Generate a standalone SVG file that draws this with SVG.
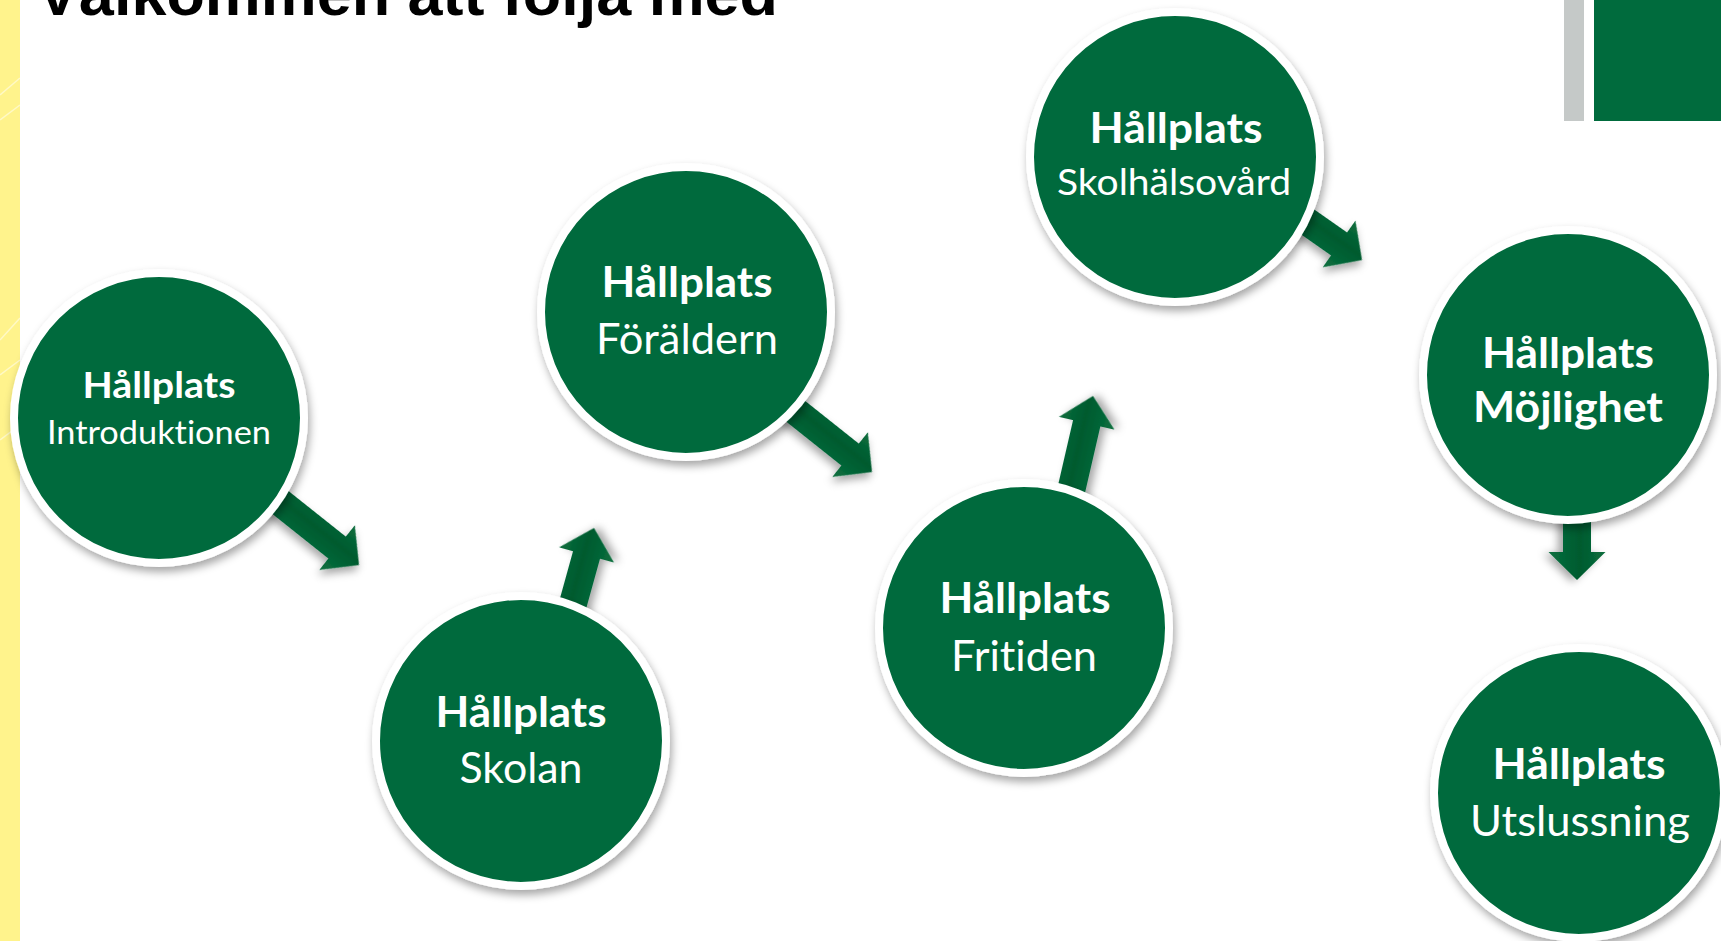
<svg xmlns="http://www.w3.org/2000/svg" xmlns:xlink="http://www.w3.org/1999/xlink" width="1721" height="941" viewBox="0 0 1721 941">
  <style>
    .node { fill: #006B3D; stroke: #FFFFFF; stroke-width: 8; filter: url(#shadow); }
    .t { fill: #FFFFFF; font-family: Lato, "Open Sans", "Noto Sans", sans-serif; text-anchor: middle; font-variant-ligatures: none; font-feature-settings: "liga" 0, "clig" 0; }
    .b { font-weight: 700; }
    .r { font-weight: 400; }
    .title { fill: #000000; font-family: "Liberation Sans", Arial, sans-serif; font-weight: 700; font-size: 62px; }
  </style>
  <defs>
    <filter id="shadow" x="-20%" y="-20%" width="140%" height="140%">
      <feDropShadow dx="2" dy="5" stdDeviation="4" flood-color="#000000" flood-opacity="0.35"/>
    </filter>
    <linearGradient id="arrowGrad" gradientUnits="userSpaceOnUse" x1="0" y1="-28" x2="0" y2="28">
      <stop offset="0" stop-color="#0B6E3E"/>
      <stop offset="0.45" stop-color="#005A2E"/>
      <stop offset="1" stop-color="#0A7040"/>
    </linearGradient>
    <path id="arrow" d="M0,0 L-28,-28.5 L-28,-14 L-140,-14 L-140,14 L-28,14 L-28,28.5 Z" fill="url(#arrowGrad)" filter="url(#shadow)"/>
  </defs>

  <rect x="0" y="0" width="1721" height="941" fill="#FFFFFF"/>

  <g id="background">
    <rect x="0" y="0" width="20" height="941" fill="#FFF38C"/>
    <g stroke="#FFFFFF" stroke-opacity="0.5" stroke-width="1.5" fill="none">
      <path d="M0,95 L20,78"/>
      <path d="M0,120 L20,105"/>
      <path d="M0,340 L20,318"/>
      <path d="M0,375 L20,360"/>
      <path d="M0,440 L20,425"/>
    </g>
    <rect x="1564" y="0" width="20" height="121" fill="#C5C9C8"/>
    <rect x="1594" y="0" width="127" height="121" fill="#006B3D"/>
    <text class="title" x="37" y="15" textLength="741" lengthAdjust="spacingAndGlyphs">Välkommen att följa med</text>
  </g>

  <g id="connectors">
    <use xlink:href="#arrow" transform="translate(359,565) rotate(38.5)"/>
    <use xlink:href="#arrow" transform="translate(594,528) rotate(-74.5)"/>
    <use xlink:href="#arrow" transform="translate(872,472) rotate(38.5)"/>
    <use xlink:href="#arrow" transform="translate(1093,396) rotate(-77)"/>
    <use xlink:href="#arrow" transform="translate(1362,260) rotate(35)"/>
    <use xlink:href="#arrow" transform="translate(1577,580) rotate(90)"/>
  </g>

  <g id="node-introduktionen">
    <circle class="node" cx="159" cy="418" r="145"/>
    <text class="t b" x="159" y="398" font-size="37" textLength="153" lengthAdjust="spacingAndGlyphs">Hållplats</text>
    <text class="t r" x="159" y="444" font-size="33" textLength="224" lengthAdjust="spacingAndGlyphs">Introduktionen</text>
  </g>

  <g id="node-skolan">
    <circle class="node" cx="521" cy="741" r="145"/>
    <text class="t b" x="521" y="727" font-size="42" textLength="171" lengthAdjust="spacingAndGlyphs">Hållplats</text>
    <text class="t r" x="521" y="783" font-size="42" textLength="123" lengthAdjust="spacingAndGlyphs">Skolan</text>
  </g>

  <g id="node-foraldern">
    <circle class="node" cx="686" cy="312" r="145"/>
    <text class="t b" x="687" y="297" font-size="42" textLength="171" lengthAdjust="spacingAndGlyphs">Hållplats</text>
    <text class="t r" x="687" y="354" font-size="42" textLength="182" lengthAdjust="spacingAndGlyphs">Föräldern</text>
  </g>

  <g id="node-fritiden">
    <circle class="node" cx="1024" cy="628" r="145"/>
    <text class="t b" x="1025" y="613" font-size="42" textLength="171" lengthAdjust="spacingAndGlyphs">Hållplats</text>
    <text class="t r" x="1024" y="671" font-size="42" textLength="146" lengthAdjust="spacingAndGlyphs">Fritiden</text>
  </g>

  <g id="node-skolhalsovard">
    <circle class="node" cx="1175" cy="157" r="145"/>
    <text class="t b" x="1176" y="143" font-size="42" textLength="173" lengthAdjust="spacingAndGlyphs">Hållplats</text>
    <text class="t r" x="1174" y="195" font-size="37.5" textLength="234" lengthAdjust="spacingAndGlyphs">Skolhälsovård</text>
  </g>

  <g id="node-mojlighet">
    <circle class="node" cx="1568" cy="375" r="145"/>
    <text class="t b" x="1568" y="368" font-size="42" textLength="172" lengthAdjust="spacingAndGlyphs">Hållplats</text>
    <text class="t b" x="1568" y="422" font-size="42" textLength="190" lengthAdjust="spacingAndGlyphs">Möjlighet</text>
  </g>

  <g id="node-utslussning">
    <circle class="node" cx="1579" cy="793" r="145"/>
    <text class="t b" x="1579" y="779" font-size="42" textLength="173" lengthAdjust="spacingAndGlyphs">Hållplats</text>
    <text class="t r" x="1580" y="836" font-size="42" textLength="220" lengthAdjust="spacingAndGlyphs">Utslussning</text>
  </g>
</svg>
